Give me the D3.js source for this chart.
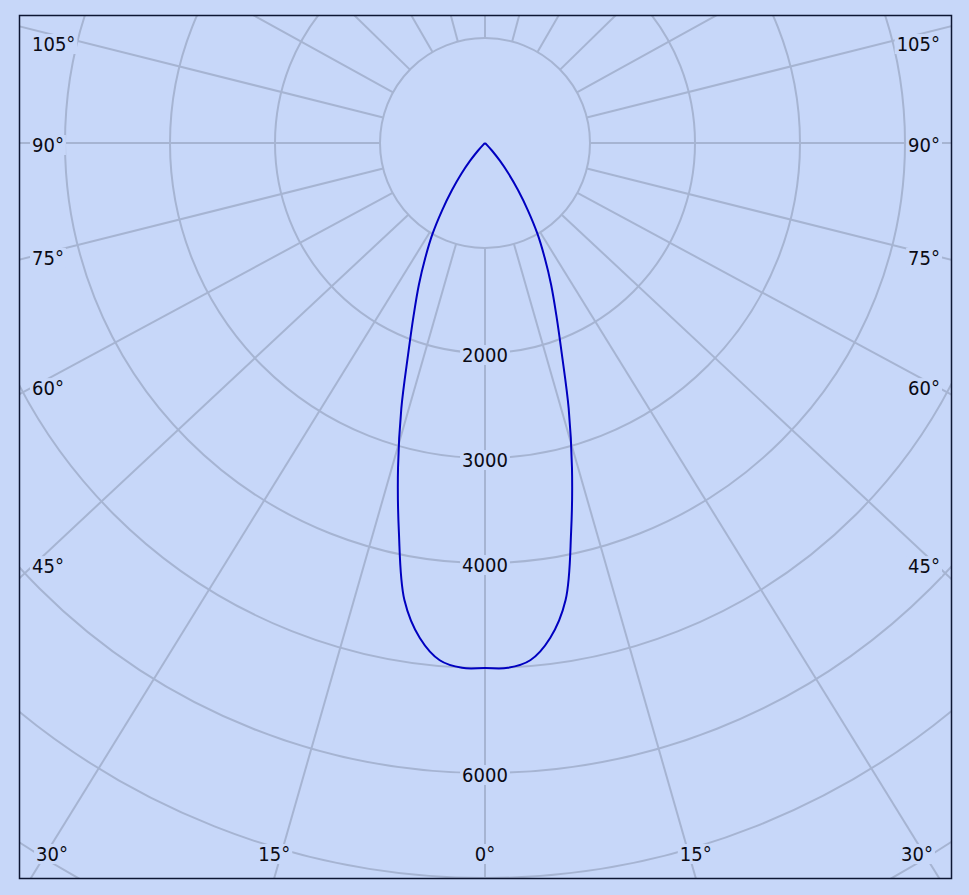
<!DOCTYPE html>
<html><head><meta charset="utf-8">
<script src="https://cdn.jsdelivr.net/npm/d3@7"></script>
<style>
html,body{margin:0;padding:0;background:#c7d7f9;}
svg{display:block;}
text{font-family:"DejaVu Sans Condensed","DejaVu Sans",sans-serif;font-size:20px;fill:#0a0a14;}
</style></head><body>
<svg id="chart" width="969" height="895"></svg>
<script>
// ---- data ----
const gammaDeg  = [0, 2.5, 5, 7.5, 10, 12.5, 15, 17.5, 20, 22.5, 25, 27.5, 30, 32.5, 35, 37.5, 40, 42.5, 45, 47.5, 50, 60, 70, 80, 90];
const intensity = [5000, 5003, 4945, 4755, 4420, 3790, 3200, 2650, 2140, 1775, 1490, 1230, 1000, 760, 550, 370, 220, 100, 25, 0, 0, 0, 0, 0, 0];
const ringValues = [1000, 2000, 3000, 4000, 5000, 6000, 7000, 8000, 9000];
const ringLabels = ["2000", "3000", "4000", "6000"];
const spokeAngles = d3.range(0, 360, 15);
const sideLabels = ["105°", "90°", "75°", "60°", "45°"];
const bottomLabels = ["30°", "15°", "0°", "15°", "30°"];

// ---- layout ----
const W = 969, H = 895;
const frame = {x: 19, y: 15, w: 932, h: 863};
const cx = 485, cy = 143;
const labelStretch = 1.04;
const bg = "#c7d7f9", gridColor = "#a6b4d2", curveColor = "#0000c0";
// horizontal stretch of the spokes as seen in the reference (lower & side spokes wider, top ones ~true)
function stretchFor(a) {
  const up = Math.abs(((a + 180) % 360) - 180); // 0 = down, 180 = up
  return up <= 105 ? 1.07 : 1.07 - 0.07 * (up - 105) / 45 > 1 ? 1.07 - 0.07 * (up - 105) / 45 : 1.0;
}

const svg = d3.select("#chart");
svg.append("rect").attr("width", W).attr("height", H).attr("fill", bg);

const r = d3.scaleLinear().domain([0, 1000]).range([0, 105]);

svg.append("clipPath").attr("id", "fc").append("rect")
  .attr("x", frame.x).attr("y", frame.y).attr("width", frame.w).attr("height", frame.h);

const g = svg.append("g").attr("clip-path", "url(#fc)");
const grid = g.append("g").attr("fill", "none").attr("stroke", gridColor).attr("stroke-width", 2);

// rings
grid.selectAll("circle").data(ringValues).join("circle")
  .attr("cx", cx).attr("cy", cy).attr("r", d => r(d));

// spokes (from the 1000 ring outward)
const rIn = r(ringValues[0]);
grid.selectAll("line").data(spokeAngles).join("line")
  .each(function(a) {
    const t = a * Math.PI / 180;
    let dx = stretchFor(a) * Math.sin(t), dy = Math.cos(t);
    const n = Math.hypot(dx, dy); dx /= n; dy /= n;
    d3.select(this)
      .attr("x1", cx + rIn * dx).attr("y1", cy + rIn * dy)
      .attr("x2", cx + 2000 * dx).attr("y2", cy + 2000 * dy);
  });

// curve
const pts = [];
for (let i = gammaDeg.length - 1; i >= 0; i--) pts.push([-gammaDeg[i], intensity[i]]);
for (let i = 1; i < gammaDeg.length; i++) pts.push([gammaDeg[i], intensity[i]]);
const line = d3.lineRadial()
  .angle(d => Math.PI - d[0] * Math.PI / 180)
  .radius(d => r(d[1]))
  .curve(d3.curveCatmullRom.alpha(0.5));
g.append("path").datum(pts)
  .attr("transform", `translate(${cx},${cy})`)
  .attr("d", line)
  .attr("fill", "none").attr("stroke", curveColor).attr("stroke-width", 2)
  .attr("stroke-linejoin", "round");

// label helper with background box
function label(parent, txt, x, y, anchor) {
  const gg = parent.append("g");
  const t = gg.append("text").attr("x", x).attr("y", y + 2)
    .attr("text-anchor", anchor).attr("dominant-baseline", "central").text(txt);
  const b = t.node().getBBox();
  gg.insert("rect", "text").attr("x", b.x - 2).attr("y", b.y + 2)
    .attr("width", b.width + 4).attr("height", b.height - 4).attr("fill", bg);
}

const labels = svg.append("g");
ringLabels.forEach(v => label(labels, v, cx, cy + r(+v), "middle"));

sideLabels.forEach(s => {
  const a = parseFloat(s) * Math.PI / 180;
  const xc = 47;
  let y = cy + (cx - xc) / (labelStretch * Math.tan(a));
  if (Math.abs(a - Math.PI / 2) < 1e-6) y = cy;
  y = Math.max(y, 42);
  label(labels, s, 32, y, "start");
  label(labels, s, 940, y, "end");
});

const by = frame.y + frame.h;
bottomLabels.forEach((s, i) => {
  const a = parseFloat(s) * Math.PI / 180;
  const sign = i < 2 ? -1 : 1;
  let x = cx + sign * (by - cy) * 1.07 * Math.tan(a);
  x = Math.max(52, Math.min(917, x));
  label(labels, s, x, 852, "middle");
});

// frame
svg.append("rect").attr("x", frame.x + 0.5).attr("y", frame.y + 0.5)
  .attr("width", frame.w).attr("height", frame.h)
  .attr("fill", "none").attr("stroke", "#0d1633").attr("stroke-width", 1.5);
</script>
</body></html>
